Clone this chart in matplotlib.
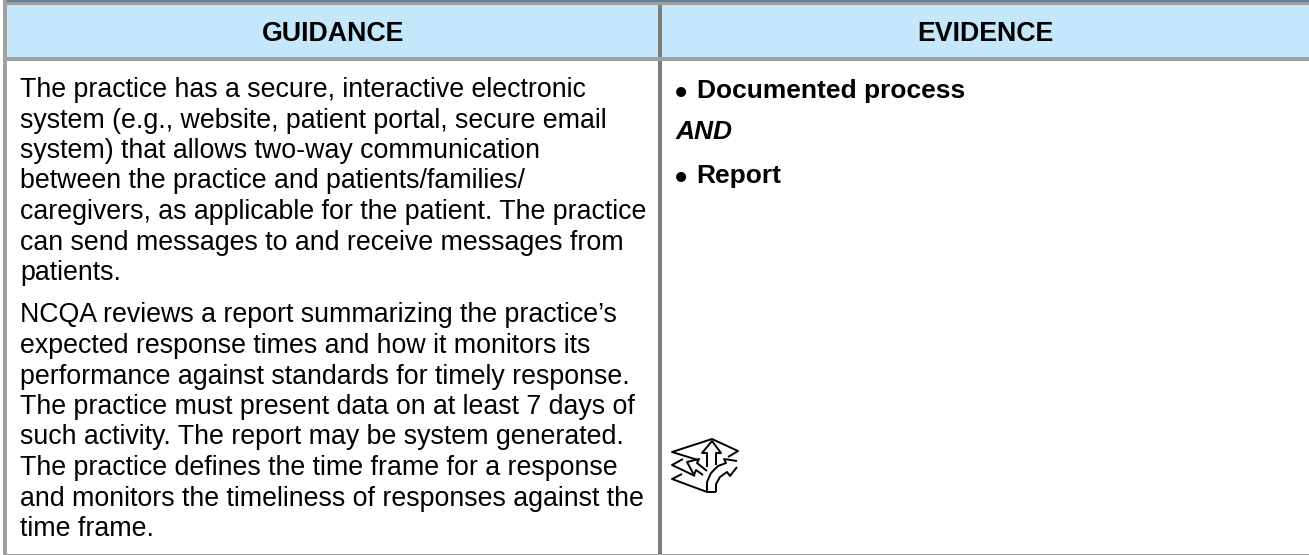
import matplotlib
matplotlib.use("Agg")
import matplotlib.pyplot as plt
from matplotlib.patches import Rectangle, Polygon

W, H = 1309, 555

headers = ["GUIDANCE", "EVIDENCE"]

guidance_lines = [
    "The practice has a secure, interactive electronic",
    "system (e.g., website, patient portal, secure email",
    "system) that allows two-way communication",
    "between the practice and patients/families/",
    "caregivers, as applicable for the patient. The practice",
    "can send messages to and receive messages from",
    "patients.",
    "NCQA reviews a report summarizing the practice\u2019s",
    "expected response times and how it monitors its",
    "performance against standards for timely response.",
    "The practice must present data on at least 7 days of",
    "such activity. The report may be system generated.",
    "The practice defines the time frame for a response",
    "and monitors the timeliness of responses against the",
    "time frame.",
]
guidance_y = [97, 127.5, 158, 188.5, 219, 249.5, 280, 322, 353, 384, 414, 444.5, 475, 506, 536]

GREY = "#a0a0a0"
DARK = "#7f7c7c"
BLUE = "#c4e7fb"


def rect(ax, x, y, w, h, color):
    ax.add_patch(Rectangle((x, y), w, h, facecolor=color, edgecolor="none"))


def draw_icon(ax):
    kw = dict(closed=False, fill=False, edgecolor="black", linewidth=1.4, joinstyle="round")
    # three stacked layers
    ax.add_patch(Polygon([(698, 460), (672, 452), (712, 439), (738, 451), (728, 457)], **kw))
    ax.add_patch(Polygon([(683, 459), (672, 465), (695, 476)], **kw))
    ax.add_patch(Polygon([(682, 474), (672, 479), (707, 492), (716, 492)], **kw))
    # arrows
    ax.add_patch(Polygon([(707, 467), (707, 453), (702, 453), (712, 441), (721, 453), (716, 453), (716, 465)], **kw))
    ax.add_patch(Polygon([(707, 471), (697, 463), (699, 459), (687, 462), (694, 475), (696, 470), (703, 475)], **kw))
    ax.add_patch(Polygon([(707, 492), (707, 482), (711, 473), (718, 466), (726, 463), (724, 459), (737, 461)], **kw))
    ax.add_patch(Polygon([(716, 492), (716, 484), (720, 477), (727, 472), (730, 476), (737, 467)], **kw))


def main():
    fig = plt.figure(figsize=(W / 100, H / 100), dpi=100)
    ax = fig.add_axes([0, 0, 1, 1])
    ax.set_xlim(0, W)
    ax.set_ylim(H, 0)
    ax.axis("off")

    # header band and grid
    rect(ax, 7, 5, W - 7, 52, BLUE)
    rect(ax, 3, 0, W - 3, 1.5, "#5f7f98")
    rect(ax, 3, 1.5, W - 3, 3.5, GREY)
    rect(ax, 3, 57, W - 3, 4, GREY)
    rect(ax, 3, 0, 4, 555, GREY)
    rect(ax, 658, 5, 3.5, 52, DARK)
    rect(ax, 658, 61, 3.5, 492.5, DARK)
    rect(ax, 3, 553.5, W - 3, 1.5, GREY)

    font = "Liberation Sans"
    ax.text(333.5, 41, headers[0], family=font, fontsize=19.3, fontweight="bold", ha="center", va="baseline")
    ax.text(985, 41, headers[1], family=font, fontsize=19.3, fontweight="bold", ha="center", va="baseline")

    for line, y in zip(guidance_lines, guidance_y):
        ax.text(20, y, line, family=font, fontsize=19.25, ha="left", va="baseline")

    ax.text(680.7, 104, "\u2022", family=font, fontsize=25, fontweight="bold", ha="center", va="baseline")
    ax.text(696.7, 98, "Documented process", family=font, fontsize=19, fontweight="bold", ha="left", va="baseline")
    ax.text(675.5, 139, "AND", family=font, fontsize=19, fontweight="bold", style="italic", ha="left", va="baseline")
    ax.text(680.7, 189.5, "\u2022", family=font, fontsize=25, fontweight="bold", ha="center", va="baseline")
    ax.text(696.7, 183, "Report", family=font, fontsize=19, fontweight="bold", ha="left", va="baseline")

    draw_icon(ax)

    fig.savefig("out.png", dpi=100)


if __name__ == "__main__":
    main()
